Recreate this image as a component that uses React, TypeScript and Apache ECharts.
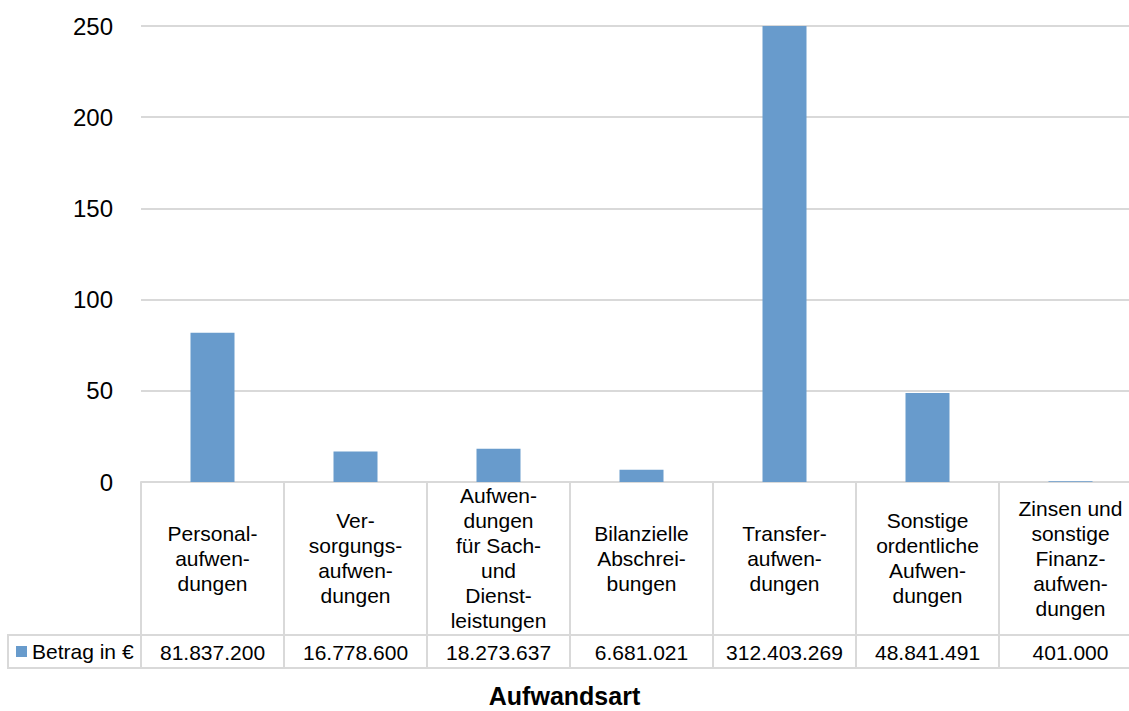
import React, { useEffect, useRef } from "react";
import * as echarts from "echarts";

const categories = [
  "Personal-\naufwen-\ndungen",
  "Ver-\nsorgungs-\naufwen-\ndungen",
  "Aufwen-\ndungen\nfür Sach-\nund\nDienst-\nleistungen",
  "Bilanzielle\nAbschrei-\nbungen",
  "Transfer-\naufwen-\ndungen",
  "Sonstige\nordentliche\nAufwen-\ndungen",
  "Zinsen und\nsonstige\nFinanz-\naufwen-\ndungen",
];
const amountsEuro = [81837200, 16778600, 18273637, 6681021, 312403269, 48841491, 401000];
const yTicks = { min: 0, max: 250, interval: 50 };
const seriesName = "Betrag in €";
const axisTitle = "Aufwandsart";

const FONT = "'Liberation Sans', Arial, sans-serif";
const GRID_COLOR = "#d9d9d9";
const BAR_COLOR = "#689bcc";

function fmtDE(n: number): string {
  const s = Math.round(n).toString();
  return s.replace(/\B(?=(\d{3})+(?!\d))/g, ".");
}

export default function App() {
  const ref = useRef<HTMLDivElement>(null);
  useEffect(() => {
    if (!ref.current) return;
    const chart = echarts.init(ref.current, undefined, { renderer: "svg" });
    const gridLeft = 141;
    const gridTop = 26;
    const gridHeight = 456;
    const colW = 143;
    const gridWidth = colW * categories.length;
    const tableBottom = gridTop + gridHeight + 186;
    const valueRowTop = gridTop + gridHeight + 153;
    chart.setOption({
      animation: false,
      textStyle: { fontFamily: FONT },
      title: {
        text: axisTitle,
        left: "center",
        top: 683,
        padding: 0,
        textStyle: { fontFamily: FONT, fontSize: 25, fontWeight: "bold", color: "#000" },
      },
      legend: {
        show: true,
        data: [seriesName],
        left: 16,
        top: valueRowTop + 6,
        padding: 0,
        icon: "rect",
        itemWidth: 11,
        itemHeight: 11,
        itemGap: 5,
        textStyle: { fontFamily: FONT, fontSize: 21, color: "#000", padding: [0, 0, 0, 0] },
      },
      grid: {
        left: gridLeft,
        top: gridTop,
        width: gridWidth,
        height: gridHeight,
        containLabel: false,
        outerBoundsMode: "none",
      },
      xAxis: [
        {
          type: "category",
          data: categories,
          position: "bottom",
          axisLine: { show: true, lineStyle: { color: GRID_COLOR, width: 2 } },
          axisTick: { show: true, alignWithLabel: false, length: 186, lineStyle: { color: GRID_COLOR, width: 2 } },
          axisLabel: {
            interval: 0,
            margin: 76,
            verticalAlign: "middle",
            fontFamily: FONT,
            fontSize: 21,
            lineHeight: 25,
            color: "#000",
            align: "center",
          },
          splitLine: { show: false },
        },
        {
          type: "category",
          data: categories,
          position: "bottom",
          offset: 153,
          axisLine: { show: true, lineStyle: { color: GRID_COLOR, width: 2 } },
          axisTick: { show: false },
          axisLabel: {
            interval: 0,
            margin: 17,
            verticalAlign: "middle",
            fontFamily: FONT,
            fontSize: 21,
            color: "#000",
            formatter: (_v: string, i: number) => fmtDE(amountsEuro[i]),
          },
          splitLine: { show: false },
        },
        {
          type: "category",
          data: categories,
          position: "bottom",
          offset: 186,
          axisLine: { show: true, lineStyle: { color: GRID_COLOR, width: 2 } },
          axisTick: { show: false },
          axisLabel: { show: false },
          splitLine: { show: false },
        },
      ],
      yAxis: {
        type: "value",
        min: yTicks.min,
        max: yTicks.max,
        interval: yTicks.interval,
        axisLine: { show: false },
        axisTick: { show: false },
        axisLabel: { margin: 28, fontFamily: FONT, fontSize: 24, color: "#000" },
        splitLine: { show: true, lineStyle: { color: GRID_COLOR, width: 2 } },
      },
      graphic: [
        { type: "line", shape: { x1: 8, y1: valueRowTop, x2: gridLeft, y2: valueRowTop }, style: { stroke: GRID_COLOR, lineWidth: 2 } },
        { type: "line", shape: { x1: 8, y1: tableBottom, x2: gridLeft, y2: tableBottom }, style: { stroke: GRID_COLOR, lineWidth: 2 } },
        { type: "line", shape: { x1: 8, y1: valueRowTop - 1, x2: 8, y2: tableBottom + 1 }, style: { stroke: GRID_COLOR, lineWidth: 2 } },
      ],
      series: [
        {
          name: seriesName,
          type: "bar",
          xAxisIndex: 0,
          barWidth: 44,
          clip: true,
          itemStyle: { color: BAR_COLOR },
          data: amountsEuro.map((v) => v / 1e6),
        },
      ],
    });
    return () => chart.dispose();
  }, []);
  return (
    <div
      ref={ref}
      style={{ position: "absolute", left: 0, top: 0, width: 1129, height: 711, background: "#fff" }}
    />
  );
}
